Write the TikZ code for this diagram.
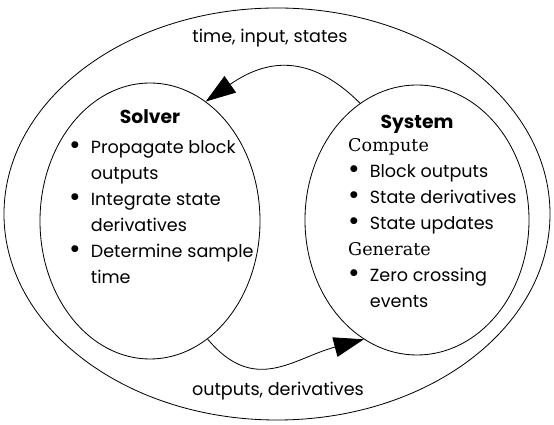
\documentclass[tikz,border=0pt]{standalone}
\usepackage{fontspec}
\setmainfont{Poppins}
\newfontfamily\headserif{DejaVu Serif}
\usetikzlibrary{arrows.meta, positioning, shapes.geometric}

% bullet with a fixed hanging indent
\newcommand{\itm}{\makebox[0.65cm][l]{\raisebox{-1.2pt}{\scalebox{1.6}{\textbullet}}}}
\newcommand{\cont}{\hspace*{0.65cm}}

\begin{document}
\begin{tikzpicture}[
    x=0.03cm, y=0.03cm,
    font=\fontsize{15}{22.2}\selectfont,
    loop/.style={ellipse, draw, line width=0.7pt, inner sep=0pt},
    title/.style={font=\fontsize{16}{19}\selectfont\bfseries},
    list/.style={anchor=north west, inner sep=0pt, align=left},
    flow/.style={-{Triangle[length=9mm, width=6mm]}, line width=0.7pt}
  ]
    \useasboundingbox (0,0) rectangle (554,425);

    \node[loop, minimum width=16.38cm, minimum height=12.36cm] (outer) at (277,211) {};
    \node[loop, minimum width=6.6cm, minimum height=8.28cm] (solver) at (150,204) {};
    \node[loop, minimum width=6.72cm, minimum height=8.1cm] (system) at (417,205) {};

    \node[title, below=7mm of solver.north] (solvertitle) {Solver};
    \node[title, below=8mm of system.north] (systemtitle) {System};

    \node[list] (solverlist) at (69,290) {\strut\itm Propagate block\\ \cont outputs\\
      \itm Integrate state\\ \cont derivatives\\ \itm Determine sample\\ \cont time};
    \node[list] (systemlist) at (348,292) {\strut{\headserif Compute}\\ \itm Block outputs\\
      \itm State derivatives\\ \itm State updates\\ {\headserif Generate}\\
      \itm Zero crossing\\ \cont events};

    \node (toplabel) at (270,387) {time, input, states};
    \node (bottomlabel) at (278,34) {outputs, derivatives};

    \draw[flow] (system.116) to[out=135, in=35, looseness=1.2] (solver.65);
    \draw[flow] (solver.-64) to[out=-50, in=195, looseness=1.2] (system.-114);
\end{tikzpicture}
\end{document}
